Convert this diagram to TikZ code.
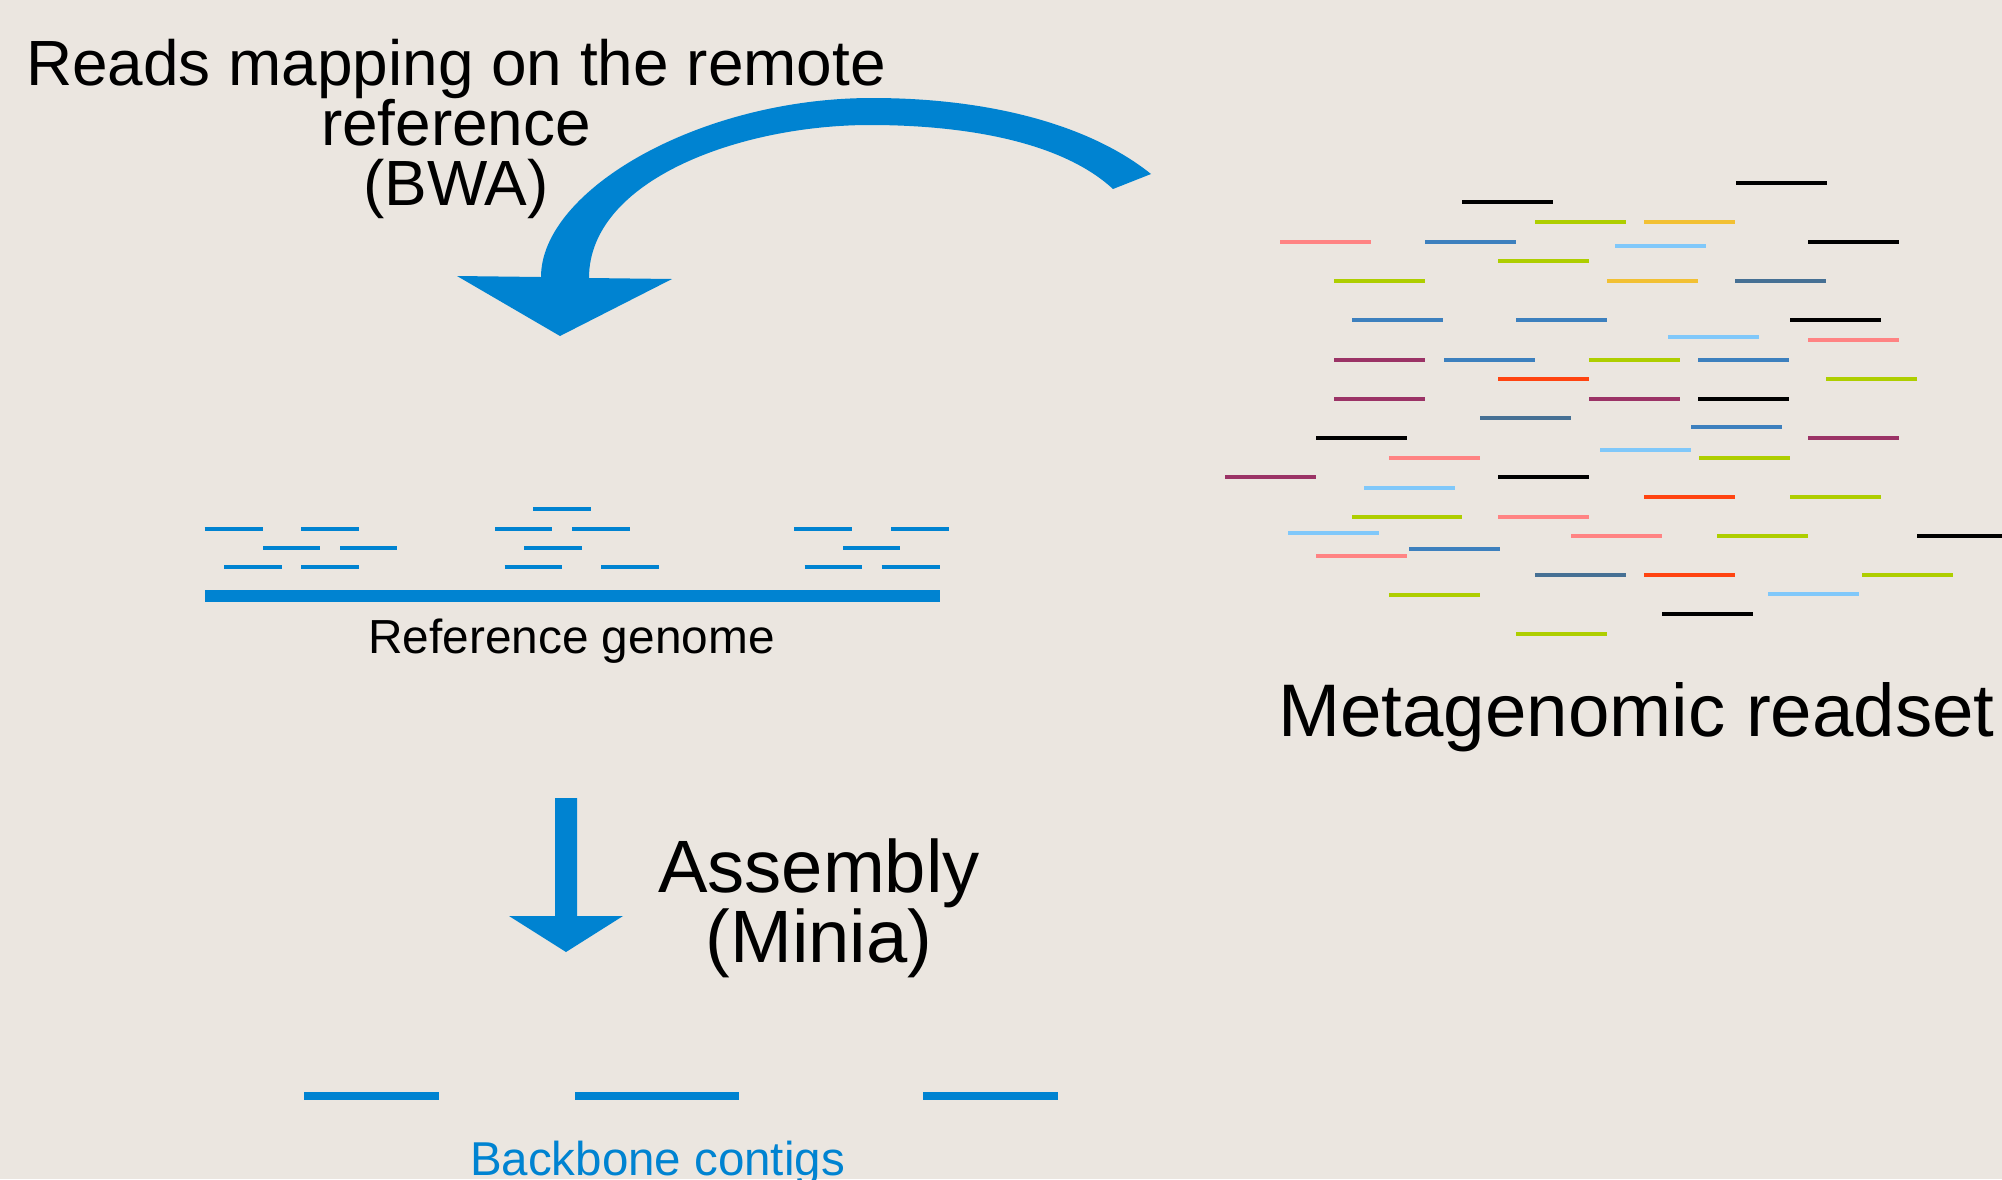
\documentclass[tikz,border=0pt]{standalone}
\usepackage{fontspec}
\setmainfont{Liberation Sans}
\definecolor{bgc}{HTML}{EBE6E0}
\definecolor{abl}{HTML}{0083D1}
\definecolor{rpink}{HTML}{FF8383}
\definecolor{rblue}{HTML}{3D80BE}
\definecolor{rsteel}{HTML}{467094}
\definecolor{rgreen}{HTML}{AECE00}
\definecolor{ryellow}{HTML}{F2C033}
\definecolor{rlight}{HTML}{80C8FA}
\definecolor{rpurple}{HTML}{9B3366}
\definecolor{rred}{HTML}{FF4411}
\definecolor{rblack}{HTML}{000000}
\begin{document}
\begin{tikzpicture}[x=1bp,y=-1bp,
  mread/.style={line width=4.5bp},
  refread/.style={line width=3.8bp, draw=abl},
  lbl/.style={inner sep=0pt, anchor=base, align=center},
  bigarrow/.style={fill=abl, draw=none}]
\fill[bgc] (0,0) rectangle (2002,1179);
\useasboundingbox (0,0) rectangle (2002,1179);

% curved arrow (mapping)
\fill[abl] (1151,174) .. controls (1090,125) and (990,98) .. (872,98)
  .. controls (700,98) and (541,190) .. (541,277)
  -- (457,276) -- (560,336) -- (672,279) -- (589,278)
  .. controls (589,180) and (740,125) .. (870,125)
  .. controls (960,125) and (1060,140) .. (1113,189) -- cycle;

% multi-line nodes: base anchor = baseline of last line
\node[lbl, font=\fontsize{63.9bp}{60bp}\selectfont] (maptxt) at (456,205)
  {Reads mapping on the remote\\reference\\(BWA)};

% reference genome
\foreach \xa/\xb/\yy in {533/591/509,
  204.5/263/529, 301/359/529, 495/552/529, 572/629.5/529, 794/852/529, 891/949/529,
  263/320/548, 340/397/548, 524/581.5/548, 843/900/548,
  224/281.5/567, 301/359/567, 504.5/562/567, 601/658.6/567, 804.5/862/567, 881.5/940/567}
  \draw[refread] (\xa,\yy) -- (\xb,\yy);
\fill[abl] (204.5,590) rectangle (940,602);
\node[lbl, font=\fontsize{47.8bp}{50bp}\selectfont] (reftxt) at (571.5,653) {Reference genome};

% assembly arrow
\fill[abl] (555,798) -- (577,798) -- (577,916) -- (623,916) -- (566,952) -- (509,916) -- (555,916) -- cycle;
\node[lbl, font=\fontsize{74.2bp}{70bp}\selectfont] (asmtxt) at (819,962) {Assembly\\(Minia)};

% backbone contigs
\foreach \xa/\xb in {304/439, 575/739, 923/1058}
  \fill[abl] (\xa,1091.5) rectangle (\xb,1099.5);
\node[lbl, font=\fontsize{47.5bp}{50bp}\selectfont, text=abl] (bbtxt) at (657.5,1175) {Backbone contigs};

% metagenomic readset
\foreach \xa/\yy/\cc in {1462/202/rblack, 1736/183/rblack, 1535/222/rgreen, 1644/222/ryellow,
  1280/242/rpink, 1425/242/rblue, 1615/246/rlight, 1808/242/rblack, 1498/261/rgreen,
  1334/281/rgreen, 1607/281/ryellow, 1735/281/rsteel, 1352/320/rblue, 1516/320/rblue,
  1790/320/rblack, 1668/337/rlight, 1808/340/rpink, 1334/360/rpurple, 1444/360/rblue,
  1589/360/rgreen, 1698/360/rblue, 1498/379/rred, 1826/379/rgreen, 1334/399/rpurple,
  1589/399/rpurple, 1698/399/rblack, 1480/418/rsteel, 1691/427/rblue, 1316/438/rblack,
  1808/438/rpurple, 1600/450/rlight, 1389/458/rpink, 1699/458/rgreen, 1225/477/rpurple,
  1498/477/rblack, 1364/488/rlight, 1644/497/rred, 1790/497/rgreen, 1498/517/rpink,
  1288/533/rlight, 1571/536/rpink, 1717/536/rgreen, 1409/549/rblue, 1316/556/rpink,
  1535/575/rsteel, 1644/575/rred, 1862/575/rgreen, 1768/594/rlight, 1389/595/rgreen,
  1662/614/rblack, 1516/634/rgreen}
  \draw[mread, draw=\cc] (\xa,\yy) -- ++(91,0);
\draw[mread, draw=rgreen] (1352,517) -- (1462,517);
\draw[mread, draw=rblack] (1917,536) -- (2002,536);
\node[lbl, font=\fontsize{74.5bp}{70bp}\selectfont] (metatxt) at (1636.5,736) {Metagenomic readset};
\end{tikzpicture}
\end{document}
